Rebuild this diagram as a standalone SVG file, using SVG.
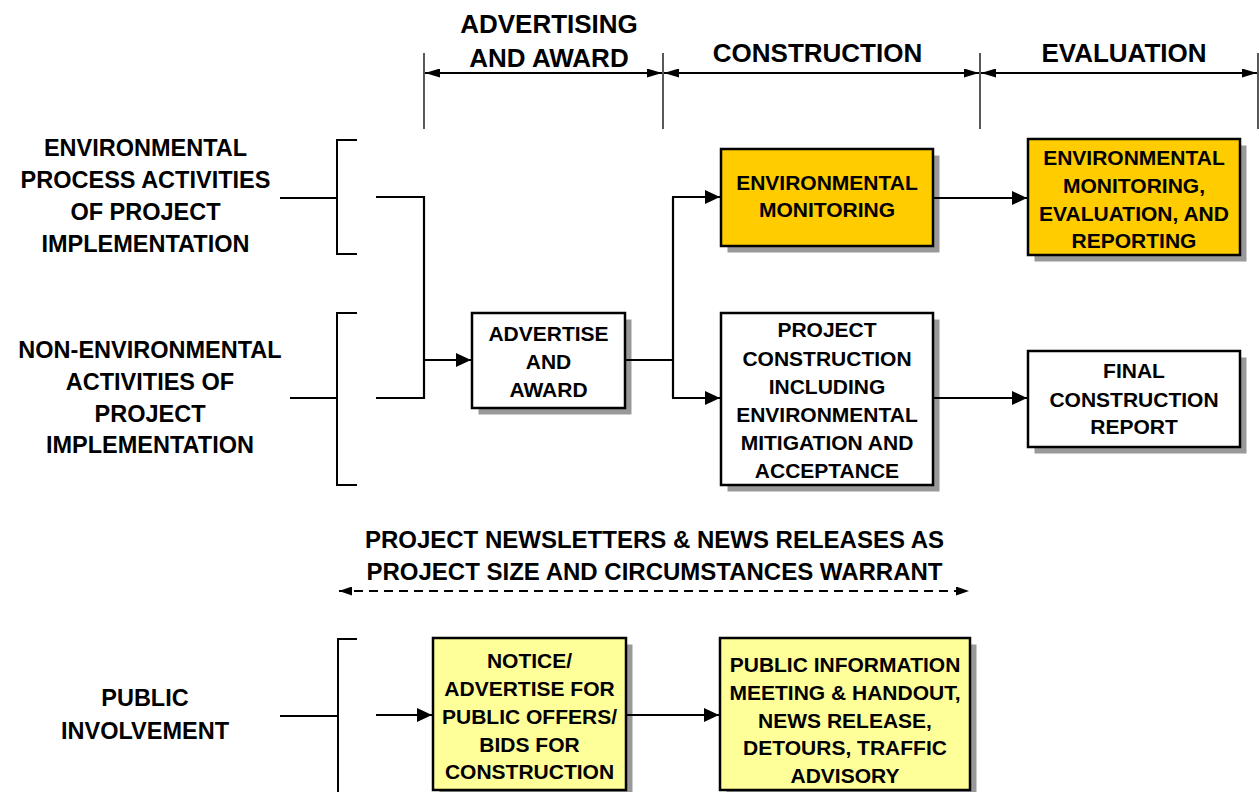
<svg xmlns="http://www.w3.org/2000/svg" width="1259" height="792" viewBox="0 0 1259 792">
<style>
text{font-family:"Liberation Sans",Arial,sans-serif;font-weight:bold;fill:#000;text-anchor:middle}
.hdr{font-size:26px}
.lbl{font-size:23.5px}
.box{font-size:21px}
.news{font-size:24px}
.shadow{fill:#999}
.frame{stroke:#000;stroke-width:2.5}
.org{fill:#FFCC00}
.wht{fill:#FFFFFF}
.ylw{fill:#FFFF99}
.ln{fill:none;stroke:#000;stroke-width:2.2}
.thin{fill:none;stroke:#000;stroke-width:1.3}
.br{fill:none;stroke:#000;stroke-width:2}
</style>
<defs>
<marker id="ah" markerUnits="userSpaceOnUse" markerWidth="15" markerHeight="14" refX="15" refY="7" orient="auto"><path d="M0,0 L15,7 L0,14 z" fill="#000"/></marker>
<marker id="hh" markerUnits="userSpaceOnUse" markerWidth="15" markerHeight="9" refX="15" refY="4.5" orient="auto-start-reverse"><path d="M0,0 L15,4.5 L0,9 z" fill="#000"/></marker>
<marker id="dh" markerUnits="userSpaceOnUse" markerWidth="13" markerHeight="9" refX="13" refY="4.5" orient="auto-start-reverse"><path d="M0,0 L13,4.5 L0,9 z" fill="#000"/></marker>
</defs>
<rect width="1259" height="792" fill="#fff"/>

<g id="phases">
<path class="thin" d="M424,53V129M663,53V129M980,53V129M1258,53V129"/>
<path class="ln" d="M425,73H662" marker-start="url(#hh)" marker-end="url(#hh)"/>
<path class="ln" d="M664,73H979" marker-start="url(#hh)" marker-end="url(#hh)"/>
<path class="ln" d="M981,73H1257" marker-start="url(#hh)" marker-end="url(#hh)"/>
<text class="hdr" x="549" y="33">ADVERTISING</text>
<text class="hdr" x="549" y="67">AND AWARD</text>
<text class="hdr" x="817.5" y="62">CONSTRUCTION</text>
<text class="hdr" x="1124" y="62">EVALUATION</text>
</g>

<g id="label-env">
<text class="lbl" x="145.5" y="156">ENVIRONMENTAL</text>
<text class="lbl" x="145.5" y="188">PROCESS ACTIVITIES</text>
<text class="lbl" x="145.5" y="220">OF PROJECT</text>
<text class="lbl" x="145.5" y="252">IMPLEMENTATION</text>
<path class="br" d="M357,140H337V254H357M280,198H337"/>
</g>

<g id="label-nonenv">
<text class="lbl" x="150" y="358">NON-ENVIRONMENTAL</text>
<text class="lbl" x="150" y="390">ACTIVITIES OF</text>
<text class="lbl" x="150" y="421.5">PROJECT</text>
<text class="lbl" x="150" y="453">IMPLEMENTATION</text>
<path class="br" d="M357,313H337V485H357M290,398H337"/>
</g>

<g id="label-public">
<text class="lbl" x="145" y="706">PUBLIC</text>
<text class="lbl" x="145" y="739">INVOLVEMENT</text>
<path class="br" d="M357,639H338V800M280,716H338"/>
</g>

<g id="advertise">
<rect class="shadow" x="478.5" y="319.5" width="153" height="95"/>
<rect class="frame wht" x="472" y="313" width="153" height="95"/>
<text class="box" x="548.5" y="341">ADVERTISE</text>
<text class="box" x="548.5" y="369">AND</text>
<text class="box" x="548.5" y="397">AWARD</text>
</g>

<g id="env-monitoring">
<rect class="shadow" x="727.5" y="155.5" width="212" height="97"/>
<rect class="frame org" x="721" y="149" width="212" height="97"/>
<text class="box" x="827" y="190">ENVIRONMENTAL</text>
<text class="box" x="827" y="217">MONITORING</text>
</g>

<g id="project-construction">
<rect class="shadow" x="727.5" y="319.5" width="212" height="172"/>
<rect class="frame wht" x="721" y="313" width="212" height="172"/>
<text class="box" x="827" y="337">PROJECT</text>
<text class="box" x="827" y="365.5">CONSTRUCTION</text>
<text class="box" x="827" y="393.5">INCLUDING</text>
<text class="box" x="827" y="422">ENVIRONMENTAL</text>
<text class="box" x="827" y="450">MITIGATION AND</text>
<text class="box" x="827" y="478">ACCEPTANCE</text>
</g>

<g id="env-evaluation">
<rect class="shadow" x="1034.5" y="145.5" width="212" height="116"/>
<rect class="frame org" x="1028" y="139" width="212" height="116"/>
<text class="box" x="1134" y="165">ENVIRONMENTAL</text>
<text class="box" x="1134" y="193">MONITORING,</text>
<text class="box" x="1134" y="221">EVALUATION, AND</text>
<text class="box" x="1134" y="248">REPORTING</text>
</g>

<g id="final-report">
<rect class="shadow" x="1034.5" y="357.5" width="212" height="96"/>
<rect class="frame wht" x="1028" y="351" width="212" height="96"/>
<text class="box" x="1134" y="378">FINAL</text>
<text class="box" x="1134" y="407">CONSTRUCTION</text>
<text class="box" x="1134" y="434">REPORT</text>
</g>

<g id="newsletters">
<text class="news" x="654.5" y="548">PROJECT NEWSLETTERS &amp; NEWS RELEASES AS</text>
<text class="news" x="654.5" y="580">PROJECT SIZE AND CIRCUMSTANCES WARRANT</text>
</g>

<g id="notice">
<rect class="shadow" x="439.5" y="644.5" width="193" height="152"/>
<rect class="frame ylw" x="433" y="638" width="193" height="152"/>
<text class="box" x="529.5" y="668">NOTICE/</text>
<text class="box" x="529.5" y="696">ADVERTISE FOR</text>
<text class="box" x="529.5" y="724">PUBLIC OFFERS/</text>
<text class="box" x="529.5" y="752">BIDS FOR</text>
<text class="box" x="529.5" y="779">CONSTRUCTION</text>
</g>

<g id="public-info">
<rect class="shadow" x="726.5" y="644.5" width="250" height="152"/>
<rect class="frame ylw" x="720" y="638" width="250" height="152"/>
<text class="box" x="845" y="672">PUBLIC INFORMATION</text>
<text class="box" x="845" y="700">MEETING &amp; HANDOUT,</text>
<text class="box" x="845" y="727.5">NEWS RELEASE,</text>
<text class="box" x="845" y="755">DETOURS, TRAFFIC</text>
<text class="box" x="845" y="783">ADVISORY</text>
</g>

<g id="connectors">
<path class="ln" d="M376,197H424V398H376"/>
<path class="ln" d="M424,360H471" marker-end="url(#ah)"/>
<path class="ln" d="M626,360H673M673,197V398"/>
<path class="ln" d="M672,197H720" marker-end="url(#ah)"/>
<path class="ln" d="M672,398H720" marker-end="url(#ah)"/>
<path class="ln" d="M934,198H1027" marker-end="url(#ah)"/>
<path class="ln" d="M934,398H1027" marker-end="url(#ah)"/>
<path class="ln" d="M376,715H432" marker-end="url(#ah)"/>
<path class="ln" d="M627,715H719" marker-end="url(#ah)"/>
<path class="ln" d="M339,591H969" stroke-dasharray="9,6" marker-start="url(#dh)" marker-end="url(#dh)"/>
</g>
</svg>
